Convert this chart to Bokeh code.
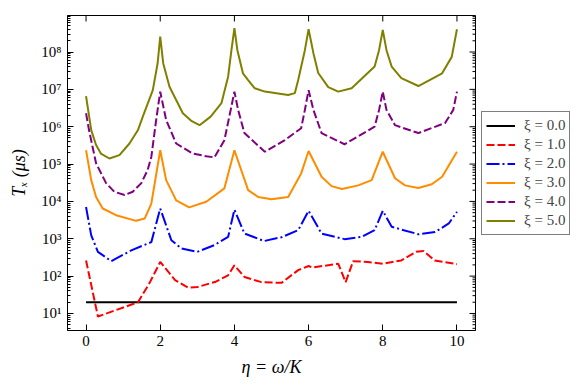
import math
from bokeh.plotting import figure
from bokeh.models import (FixedTicker, Legend, LegendItem,
                          CustomJSTickFormatter, Range1d)
from bokeh.embed import file_html
from bokeh.resources import INLINE

# ---- data ----
x_ticks = [0, 2, 4, 6, 8, 10]
y_ticks = [1e1, 1e2, 1e3, 1e4, 1e5, 1e6, 1e7, 1e8]
x_lo, x_hi = -0.5, 10.5
y_lo, y_hi = 3.5, 9.5e8

labels = ["ξ = 0.0", "ξ = 1.0", "ξ = 2.0", "ξ = 3.0", "ξ = 4.0", "ξ = 5.0"]

eta_0 = [0, 10]
tx_0 = [20, 20]

eta_1 = [0, 0.32, 1.4, 1.71, 2.0, 2.4, 2.75, 3.0, 3.5, 3.83, 4.0, 4.27, 4.73, 5.27,
         5.72, 6.0, 6.1, 6.8, 7.0, 7.2, 7.6, 8.0, 8.5, 8.9, 9.1, 9.4, 10]
tx_1 = [263, 8.3, 20, 65, 240, 78, 49, 51, 71, 105, 195, 95, 69, 66,
        145, 186, 170, 214, 69, 251, 240, 214, 263, 447, 468, 263, 209]

eta_2 = [0, 0.14, 0.32, 0.68, 1.22, 1.76, 2.0, 2.3, 2.57, 3.0, 3.46, 3.83, 4.0, 4.27,
         4.8, 5.27, 5.72, 6.0, 6.35, 6.97, 7.43, 7.78, 8.0, 8.24, 8.96, 9.41, 9.78, 10]
tx_2 = [7080, 1230, 447, 251, 490, 813, 6460, 912, 550, 447, 676, 1120, 6030, 1380,
        871, 1100, 1700, 5620, 1380, 977, 1120, 1700, 5620, 2090, 1320, 1510, 2570, 5250]

eta_3 = [0, 0.14, 0.27, 0.45, 0.81, 1.35, 1.58, 1.76, 2.0, 2.16, 2.43, 2.78, 3.24, 3.73,
         4.0, 4.37, 4.64, 5.0, 5.45, 5.8, 6.0, 6.35, 6.62, 6.9, 7.34, 7.7, 8.0, 8.33,
         8.6, 8.96, 9.32, 9.6, 10]
tx_3 = [234000, 37200, 13200, 6460, 4270, 3020, 3470, 8710, 234000, 37200, 10700, 6920,
        9770, 22400, 234000, 20000, 13200, 11500, 13200, 56200, 224000, 45700, 25700,
        21400, 26900, 37200, 214000, 41700, 26900, 22900, 28800, 45700, 214000]

eta_4 = [0, 0.08, 0.27, 0.54, 0.76, 1.04, 1.26, 1.49, 1.66, 1.76, 1.89, 2.0, 2.16, 2.43,
         2.88, 3.24, 3.46, 3.73, 3.9, 4.0, 4.1, 4.27, 4.82, 5.36, 5.8, 5.9, 6.0, 6.13,
         6.35, 6.97, 7.78, 7.9, 8.0, 8.1, 8.33, 8.96, 9.68, 9.9, 10]
tx_4 = [2.29e6, 8.13e5, 1.05e5, 3.09e4, 1.82e4, 1.48e4, 1.82e4, 3.09e4, 6.92e4, 1.55e5,
        1.51e6, 8.71e6, 1.51e6, 3.55e5, 1.91e5, 1.62e5, 1.51e5, 4.37e5, 2.82e6, 8.71e6,
        2.82e6, 6.76e5, 2.14e5, 4.37e5, 9.12e5, 2.82e6, 9.55e6, 2.82e6, 6.76e5, 3.39e5,
        1.0e6, 2.82e6, 8.71e6, 2.82e6, 1.10e6, 6.76e5, 1.26e6, 2.82e6, 8.71e6]

eta_5 = [0, 0.14, 0.27, 0.40, 0.63, 0.9, 1.17, 1.4, 1.53, 1.8, 1.93, 2.0, 2.08, 2.25,
         2.61, 2.85, 3.06, 3.36, 3.65, 3.83, 3.92, 4.0, 4.08, 4.23, 4.37, 4.55, 4.82,
         5.45, 5.63, 5.72, 5.9, 6.0, 6.13, 6.26, 6.53, 6.8, 7.16, 7.78, 7.9, 8.0, 8.1,
         8.24, 8.5, 8.96, 9.6, 9.86, 10]
tx_5 = [6.61e6, 8.13e5, 3.24e5, 1.91e5, 1.41e5, 1.74e5, 3.55e5, 8.13e5, 1.86e6, 9.55e6,
        5.01e7, 2.57e8, 5.01e7, 1.17e7, 2.29e6, 1.41e6, 1.10e6, 1.86e6, 4.27e6, 2.19e7,
        1.12e8, 4.37e8, 1.12e8, 2.69e7, 1.78e7, 1.07e7, 8.71e6, 7.08e6, 7.94e6, 1.78e7,
        1.12e8, 4.07e8, 9.33e7, 2.75e7, 1.15e7, 8.71e6, 1.07e7, 4.07e7, 1.12e8, 3.89e8,
        1.12e8, 4.07e7, 2.0e7, 1.23e7, 2.69e7, 7.41e7, 4.07e8]

series = [
    (eta_0, tx_0, "black", "solid"),
    (eta_1, tx_1, "#ff0000", "8 3"),
    (eta_2, tx_2, "#0000ff", "13 3 2 3"),
    (eta_3, tx_3, "#ff8c00", "solid"),
    (eta_4, tx_4, "#800080", "8 3"),
    (eta_5, tx_5, "#808000", "solid"),
]

SERIF = "Liberation Serif"

p = figure(frame_width=408, frame_height=315, y_axis_type="log",
           x_range=Range1d(x_lo, x_hi), y_range=Range1d(y_lo, y_hi),
           output_backend="svg", toolbar_location=None,
           min_border_left=67, min_border_top=15, min_border_bottom=56,
           min_border_right=0)

p.xgrid.visible = False
p.ygrid.visible = False
p.outline_line_color = "black"
p.outline_line_width = 1
p.background_fill_color = "white"

minor = [m * 10.0 ** k for k in range(0, 9) for m in range(2, 10)]
xticker = FixedTicker(ticks=x_ticks, minor_ticks=[])
yticker = FixedTicker(ticks=y_ticks, minor_ticks=minor)

fmt = CustomJSTickFormatter(code="""
const sup = {'0':'\u2070','1':'\u00b9','2':'\u00b2','3':'\u00b3','4':'\u2074','5':'\u2075','6':'\u2076','7':'\u2077','8':'\u2078','9':'\u2079','-':'\u207b'};
const e = Math.round(Math.log10(tick));
return '10' + String(e).split('').map(c => sup[c]).join('');
""")

def style(ax):
    ax.major_tick_in = 6
    ax.major_tick_out = 0
    ax.minor_tick_in = 3
    ax.minor_tick_out = 0
    ax.axis_line_color = "black"
    ax.major_tick_line_color = "black"
    ax.minor_tick_line_color = "black"
    ax.major_label_text_font = SERIF
    ax.major_label_text_font_size = "15px"
    ax.major_label_text_color = "black"
    ax.axis_label_text_font = SERIF
    ax.axis_label_text_font_size = "18px"
    ax.axis_label_text_font_style = "italic"
    ax.axis_label_text_color = "black"

xa = p.xaxis[0]
xa.ticker = xticker
xa.axis_label = "η = ω/K"
style(xa)
xa.major_label_standoff = 5
xa.axis_label_standoff = 8

ya = p.yaxis[0]
ya.ticker = yticker
ya.formatter = fmt
ya.axis_label = "Tₓ (μs)"
style(ya)
ya.major_label_standoff = 6
ya.axis_label_standoff = 9

# mirrored inward tick marks on the right and top frame edges
p.ray(x=[x_hi] * len(y_ticks), y=y_ticks, length=6, length_units="screen",
      angle=math.pi, line_color="black", line_width=1)
p.ray(x=[x_hi] * len(minor), y=minor, length=3, length_units="screen",
      angle=math.pi, line_color="black", line_width=1)
p.ray(x=x_ticks, y=[y_hi] * len(x_ticks), length=6, length_units="screen",
      angle=-math.pi / 2, line_color="black", line_width=1)

items = []
for (xs, ys, col, dash), lab in zip(series, labels):
    r = p.line(xs, ys, line_color=col, line_width=2, line_dash=dash)
    items.append(LegendItem(label=lab, renderers=[r]))

leg = Legend(items=items, location="center_left",
             label_text_font=SERIF, label_text_font_size="15px",
             glyph_width=29, glyph_height=19, label_height=19, spacing=0,
             padding=4, margin=6, label_standoff=9,
             border_line_color="black", border_line_width=1,
             background_fill_color="white", background_fill_alpha=1)
p.add_layout(leg, "right")

open("out.html", "w").write(file_html(p, INLINE))
